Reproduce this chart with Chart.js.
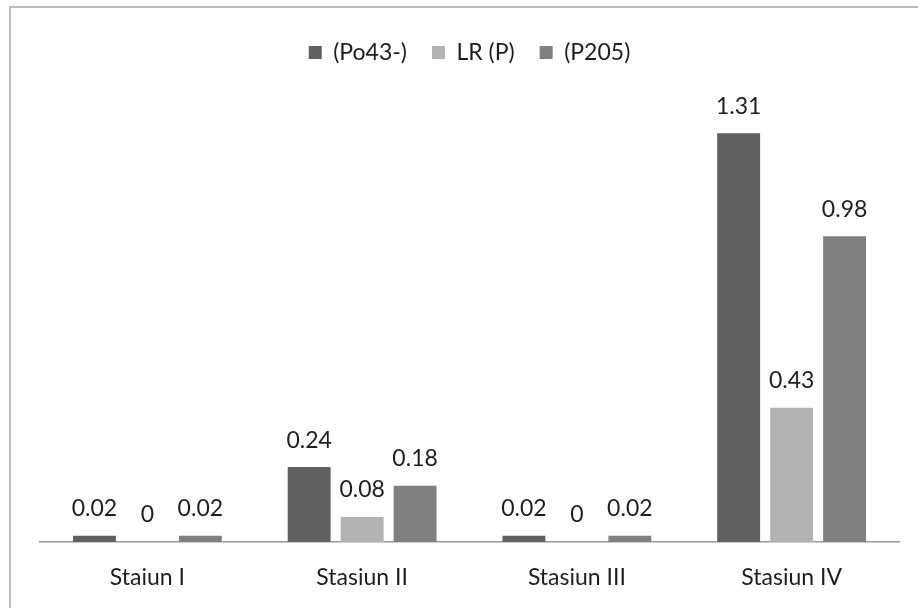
<!DOCTYPE html>
<html>
<head>
<meta charset="utf-8">
<script src="https://cdn.jsdelivr.net/npm/chart.js@4/dist/chart.umd.min.js"></script>
<style>
  html, body { margin: 0; padding: 0; background: #ffffff; }
  #wrap { position: relative; width: 918px; height: 608px; }
  #frame { position: absolute; left: 9px; top: 6px; right: -4px; bottom: -4px;
           border-top: 2px solid #bcbcbc; border-left: 2px solid #bcbcbc; }
  canvas { position: absolute; left: 0; top: 0; }
</style>
</head>
<body>
<div id="wrap">
  <div id="frame"></div>
  <canvas id="chart" width="918" height="608"></canvas>
</div>
<script>
// Phosphate readings per station
const stations = ['Staiun I', 'Stasiun II', 'Stasiun III', 'Stasiun IV'];
const seriesNames = ['(Po43-)', 'LR (P)', '(P205)'];
const po43 = [0.02, 0.24, 0.02, 1.31];
const lrP = [0, 0.08, 0, 0.43];
const p205 = [0.02, 0.18, 0.02, 0.98];
const seriesColors = ['#606060', '#b3b3b3', '#808080'];

const FONT = 'Lato, "Open Sans", sans-serif';
const FONT_SIZE = 23;
const TEXT_COLOR = '#1e1e1e';

// Writes each bar's value just above it
const valueLabels = {
  id: 'valueLabels',
  afterDatasetsDraw(chart) {
    const ctx = chart.ctx;
    ctx.save();
    ctx.font = FONT_SIZE + 'px ' + FONT;
    ctx.fillStyle = TEXT_COLOR;
    ctx.textAlign = 'center';
    ctx.textBaseline = 'middle';
    chart.data.datasets.forEach((ds, i) => {
      chart.getDatasetMeta(i).data.forEach((bar, j) => {
        ctx.fillText(String(ds.data[j]), bar.x, bar.y - 27);
      });
    });
    ctx.restore();
  }
};

new Chart(document.getElementById('chart'), {
  type: 'bar',
  data: {
    labels: stations,
    datasets: [
      { label: seriesNames[0], data: po43, backgroundColor: seriesColors[0] },
      { label: seriesNames[1], data: lrP, backgroundColor: seriesColors[1] },
      { label: seriesNames[2], data: p205, backgroundColor: seriesColors[2] }
    ]
  },
  options: {
    responsive: false,
    animation: false,
    devicePixelRatio: 1,
    layout: { padding: { left: 40, right: 19, top: 16, bottom: 0 } },
    datasets: { bar: { barPercentage: 0.81, categoryPercentage: 0.74 } },
    plugins: {
      legend: {
        position: 'top',
        labels: {
          font: { family: FONT, size: FONT_SIZE },
          color: TEXT_COLOR,
          boxWidth: 13,
          boxHeight: 13,
          padding: 25
        }
      },
      tooltip: { enabled: false }
    },
    scales: {
      x: {
        grid: { display: false, drawTicks: false },
        border: { color: '#9a9a9a', width: 1.5 },
        ticks: { font: { family: FONT, size: FONT_SIZE }, color: TEXT_COLOR, padding: 22 },
        afterFit(scale) { scale.height = 66; }
      },
      y: {
        display: false,
        min: 0,
        max: 1.5
      }
    }
  },
  plugins: [valueLabels]
});
</script>
</body>
</html>
